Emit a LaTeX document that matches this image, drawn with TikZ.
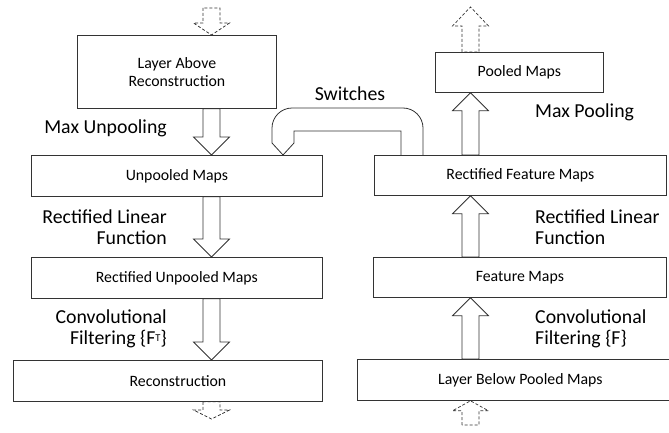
\documentclass[tikz,border=0pt]{standalone}
\usepackage{fontspec}
\setmainfont{Carlito}
\usetikzlibrary{calc}

\tikzset{
  ink/.style={draw=black!80, line width=0.8pt},
  box/.style={ink, rectangle, anchor=north west, inner sep=0pt, align=center,
    font=\fontsize{15.8}{18}\selectfont, text=black},
  boxtext/.style={inner sep=0pt, font=\fontsize{15.8}{18}\selectfont, text=black},
  lab/.style={inner sep=0pt, align=left, font=\fontsize{19.8}{21}\selectfont, text=black},
  labr/.style={lab, align=right},
  blockarr/.style={ink, line join=miter},
  ghost/.style={ink, line width=0.7pt, dash pattern=on 3pt off 2pt},
}

% small raised index letter
\newcommand\smallsup[1]{\raisebox{3pt}{\fontsize{10.5}{10.5}\selectfont #1}}

% vertical block arrow: shaft starts at #2, tip at #3, #4 = signed head length
\newcommand\blockarrow[4][]{%
  \draw[blockarr,#1] let \p1=(#2), \p2=(#3) in
    (\x1-8.5pt,\y1) -- (\x1-8.5pt,{\y2+(#4)}) -- (\x1-18pt,{\y2+(#4)}) -- (\x1,\y2)
    -- (\x1+18pt,{\y2+(#4)}) -- (\x1+8.5pt,{\y2+(#4)}) -- (\x1+8.5pt,\y1) -- cycle;}

\begin{document}
\begin{tikzpicture}[x=1pt,y=-1pt]
\useasboundingbox (0,0) rectangle (669,433);

% column axes
\coordinate (lx) at (211.5,0);
\coordinate (rx) at (470.5,0);

% deconvnet side (left)
\node[box, minimum width=199pt, minimum height=73pt] (above) at (77,35) {Layer Above\\Reconstruction};
\node[box, minimum width=291pt, minimum height=41pt] (unpooled) at (31,155) {Unpooled Maps};
\node[box, minimum width=291pt, minimum height=41pt] (runpooled) at (31,257) {Rectified Unpooled Maps};
\node[box, minimum width=309pt, minimum height=41pt,
      label={[boxtext, xshift=10pt]center:Reconstruction}] (recon) at (13,360) {};

% convnet side (right)
\node[box, minimum width=168pt, minimum height=40pt] (pooled) at (435,52) {Pooled Maps};
\node[box, minimum width=292pt, minimum height=40pt] (rfm) at (374,155) {Rectified Feature Maps};
\node[box, minimum width=293pt, minimum height=40pt] (fm) at (373,257) {Feature Maps};
\node[box, minimum width=326pt, minimum height=41pt] (below) at (357,359) {Layer Below Pooled Maps};

% operation labels (base anchor sits on the last line)
\node[lab, anchor=base east] (lmu) at (167,133) {Max Unpooling};
\node[labr, anchor=base east] (lrl) at (167,244) {Rectified Linear\\Function};
\node[labr, anchor=base east] (lcf) at (167,344) {Convolutional\\Filtering \{F\smallsup{T}\}};
\node[lab, anchor=base west] (rmp) at (535,118) {Max Pooling};
\node[lab, anchor=base west] (rrl) at (535,244) {Rectified Linear\\Function};
\node[lab, anchor=base west] (rcf) at (535,344) {Convolutional\\Filtering \{F\}};
\node[lab, anchor=base] (sw) at (350,101) {Switches};

% left column arrows (downwards)
\coordinate (lin) at (211.5,8);
\coordinate (lout) at (211.5,419);
\blockarrow[ghost]{lin}{above.north -| lx}{12pt}
\blockarrow{above.south -| lx}{unpooled.north -| lx}{18pt}
\blockarrow{unpooled.south -| lx}{runpooled.north -| lx}{18pt}
\blockarrow{runpooled.south -| lx}{recon.north -| lx}{18pt}
\blockarrow[ghost]{recon.south -| lx}{lout}{9pt}

% right column arrows (upwards)
\coordinate (rin) at (470.5,425);
\coordinate (rout) at (470.5,7);
\blockarrow[ghost]{rin}{below.south -| rx}{-10pt}
\blockarrow{below.north -| rx}{fm.south -| rx}{-18pt}
\blockarrow{fm.north -| rx}{rfm.south -| rx}{-18pt}
\blockarrow{rfm.north -| rx}{pooled.south -| rx}{-18pt}
\blockarrow[ghost]{pooled.north -| rx}{rout}{-19pt}

% switches pipe from the pooling side to the unpooling side
\coordinate (swOut) at (423,0);
\coordinate (swIn) at (401,0);
\coordinate (swTip) at (283,0);
\draw[ink, line join=miter] (rfm.north -| swOut) -- (423,128)
  .. controls (423,117) and (414,108) .. (403,108) -- (292,108)
  .. controls (281,108) and (272,117) .. (272,128) -- (272,143)
  -- (unpooled.north -| swTip) -- (294,143) -- (294,131) -- (401,131)
  -- (rfm.north -| swIn);
\end{tikzpicture}
\end{document}
